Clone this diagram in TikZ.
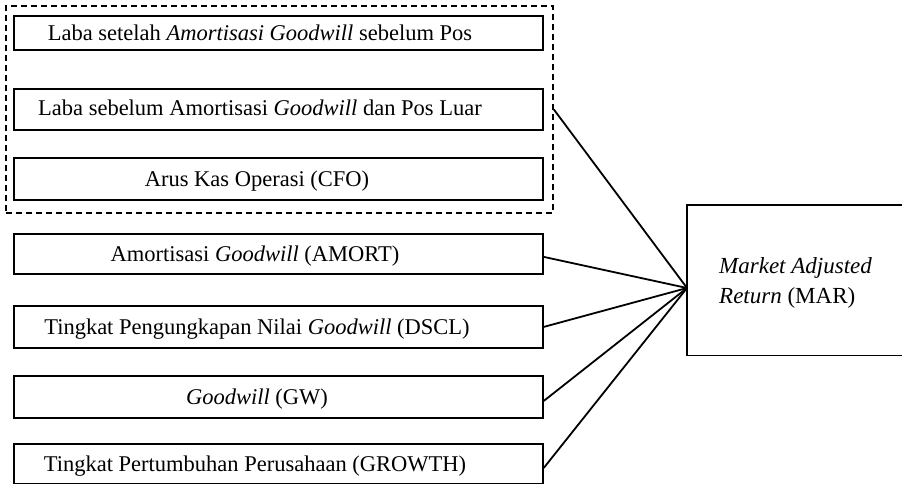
\documentclass[tikz,border=0pt]{standalone}
\usepackage{fontspec}
\setmainfont{Liberation Serif}
\begin{document}
\begin{tikzpicture}[x=1pt,y=-1pt,
  box/.style={draw,line width=1.8pt,minimum width=529pt,anchor=north west,inner sep=0pt},
  lbl/.style={anchor=base,inner sep=0pt,font=\fontsize{22.5}{29}\selectfont},
  conn/.style={line width=1.8pt},
  grpbox/.style={draw,line width=1.8pt,dash pattern=on 6pt off 4pt,anchor=north west,inner sep=0pt}]
\useasboundingbox (0,0) rectangle (902,484);
% group
\node[grpbox,minimum width=547pt,minimum height=207pt] (grp) at (5,5) {};
% boxes
\node[box,minimum height=34pt] (b1) at (13,15) {};
\node[box,minimum height=41pt] (b2) at (13,88) {};
\node[box,minimum height=42pt] (b3) at (13,157) {};
\node[box,minimum height=40pt] (b4) at (13,233) {};
\node[box,minimum height=42pt] (b5) at (13,305) {};
\node[box,minimum height=42pt] (b6) at (13,375) {};
\node[box,minimum height=40pt] (b7) at (13,443) {};
% labels
\node[lbl] (t1) at (260,41) {Laba setelah \textit{Amortisasi Goodwill} sebelum Pos};
\node[lbl] (t2) at (260,116) {Laba sebelum Amortisasi \textit{Goodwill} dan Pos Luar};
\node[lbl] (t3) at (257,186) {Arus Kas Operasi (CFO)};
\node[lbl] (t4) at (255,261) {Amortisasi \textit{Goodwill} (AMORT)};
\node[lbl] (t5) at (257,334) {Tingkat Pengungkapan Nilai \textit{Goodwill} (DSCL)};
\node[lbl] (t6) at (257,404) {\textit{Goodwill} (GW)};
\node[lbl] (t7) at (255,471) {Tingkat Pertumbuhan Perusahaan (GROWTH)};
% MAR box
\node[anchor=north west,inner sep=0pt,minimum width=215pt,minimum height=150pt] (mar) at (687,205) {};
\draw[line width=1.8pt] (mar.north east) -- (mar.north west) -- (mar.south west) -- (mar.south east);
\node[anchor=west,align=left,inner sep=0pt,font=\fontsize{23}{30}\selectfont] (mart) at (719,283) {\textit{Market Adjusted}\\\textit{Return} (MAR)};
\coordinate (hub) at (687,288);
% connectors
\draw[conn] (b2 -| grp.east) -- (hub);
\draw[conn] ([yshift=-3pt]b4.east) -- (hub);
\draw[conn] (b5.east) -- (hub);
\draw[conn] ([yshift=-4pt]b6.east) -- (hub);
\draw[conn] ([yshift=-4pt]b7.east) -- (hub);
\end{tikzpicture}
\end{document}
